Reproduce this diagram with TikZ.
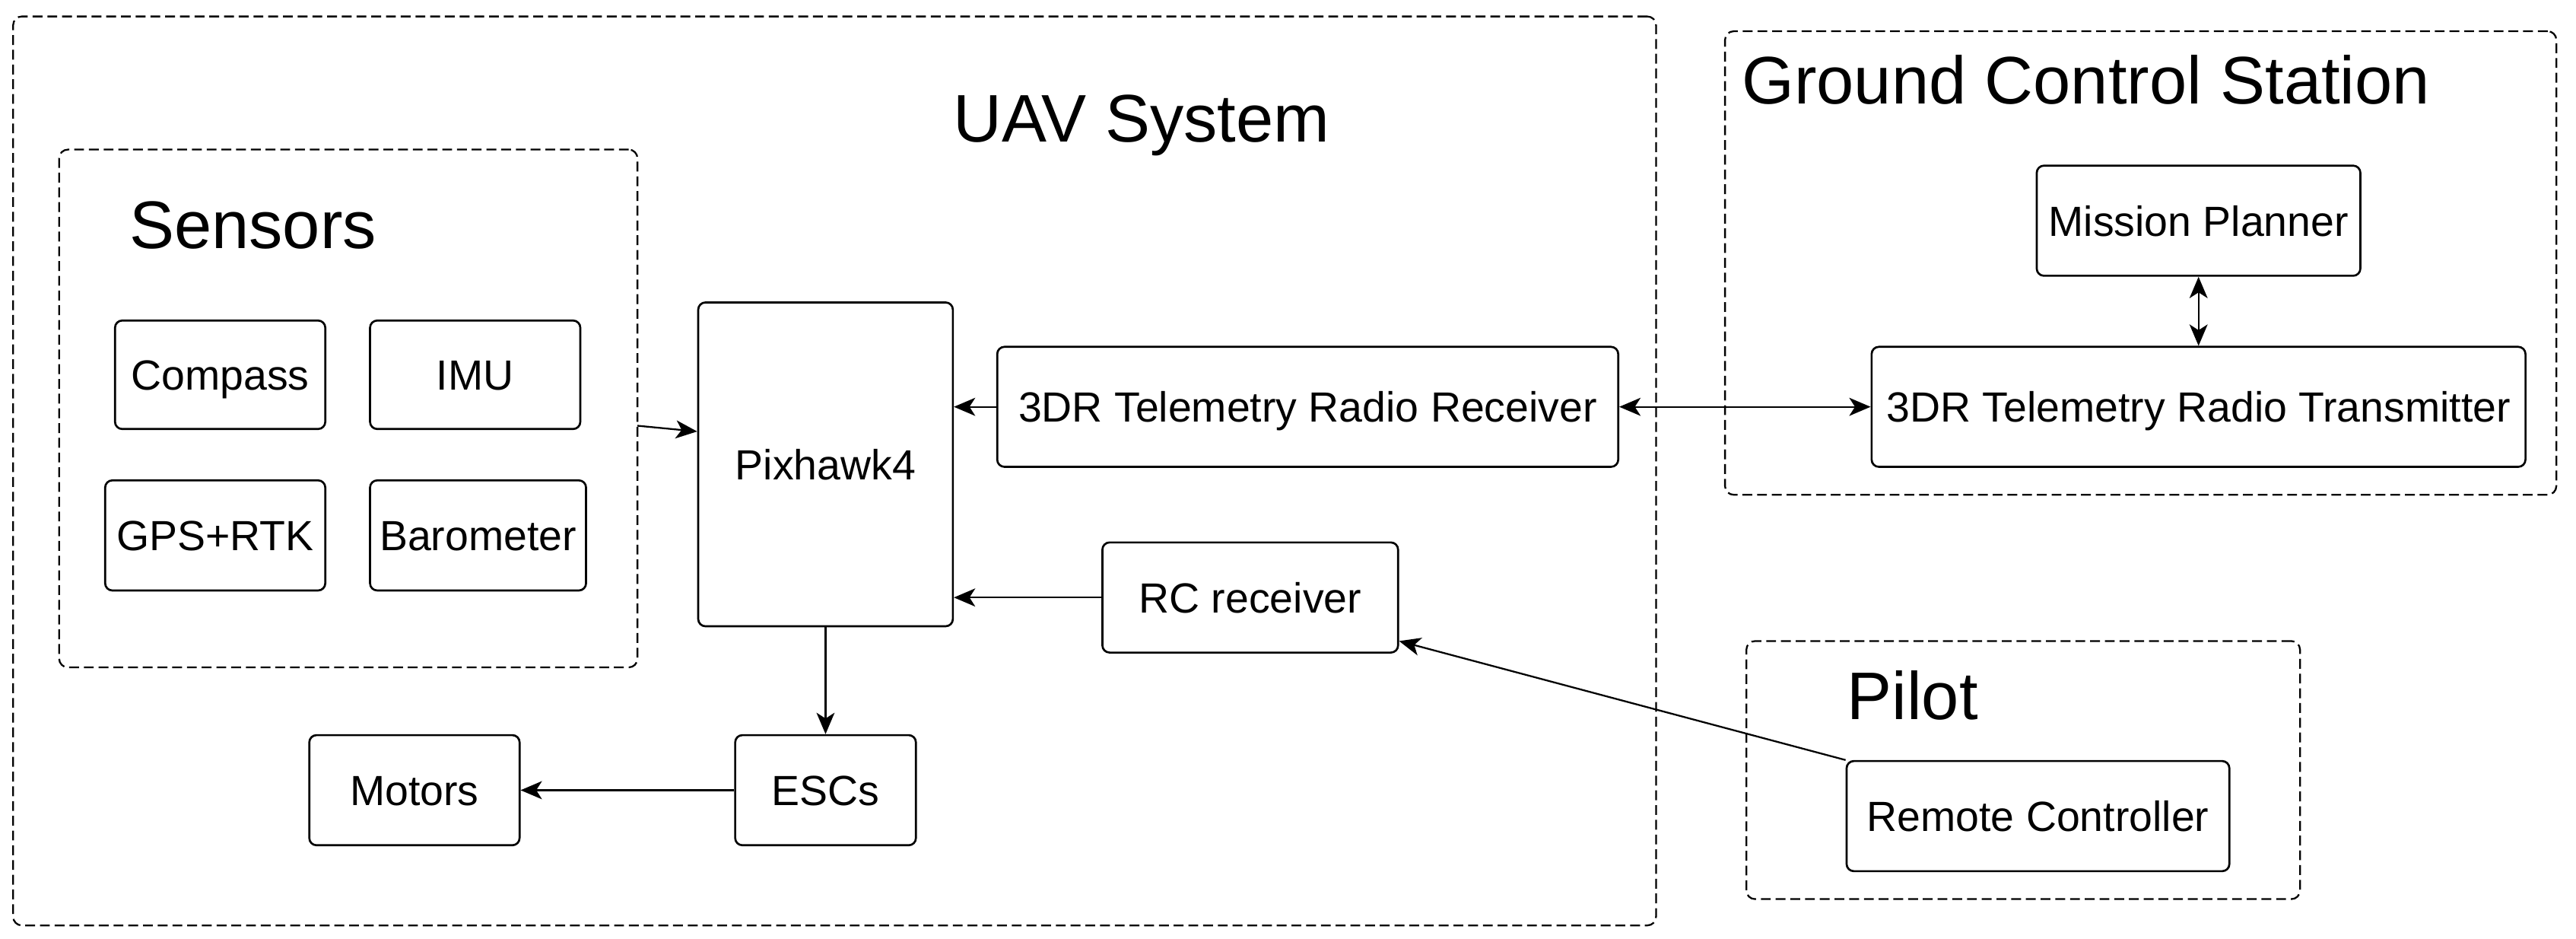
\documentclass[tikz,border=0pt]{standalone}
\usepackage{fontspec}
\setmainfont{Liberation Sans}
\usepackage{tikz}
\usetikzlibrary{arrows.meta,positioning,calc}
\definecolor{uavline}{HTML}{000000}
\tikzset{
  unit/.style={rounded corners=2.5pt, draw=uavline, line width=0.7pt, fill=white, align=center, minimum height=1.34cm, text height=0.37cm, text depth=0cm, font=\fontsize{14.6}{17}\selectfont},
  group/.style={rounded corners=3pt, draw=uavline, line width=0.6pt, dash pattern=on 3.4pt off 1.7pt, inner sep=0pt, outer sep=0pt},
  title/.style={anchor=base west, inner sep=0pt, font=\fontsize{23.3}{27}\selectfont},
  arrow/.style={-{Stealth[length=0.26cm, width=0.22cm, inset=0.07cm]}, line width=0.6pt, draw=uavline},
  biarrow/.style={{Stealth[length=0.26cm, width=0.22cm, inset=0.07cm]}-{Stealth[length=0.26cm, width=0.22cm, inset=0.07cm]}, line width=0.6pt, draw=uavline}
}

\begin{document}
\begin{tikzpicture}[node distance=0.6cm and 0.52cm]
  \useasboundingbox (0,0) rectangle (31.36,-11.42);

  % groups
  \node[group, minimum width=20cm, minimum height=11.06cm] (uav) at (10.16,-5.73) {};
  \node[group, minimum width=7.04cm, minimum height=6.3cm] (sensors) at (4.24,-4.97) {};
  \node[group, minimum width=10.12cm, minimum height=5.64cm] (gcs) at (26.06,-3.2) {};
  \node[group, minimum width=6.74cm, minimum height=3.14cm] (pilot) at (24.63,-9.37) {};

  \node[title] (uavtitle) at (11.6,-1.73) {UAV System};
  \node[title] (sensorstitle) at (1.57,-3.02) {Sensors};
  \node[title] (gcstitle) at (21.2,-1.26) {Ground Control Station};
  \node[title] (pilottitle) at (22.48,-8.75) {Pilot};

  % sensors
  \node[unit, minimum width=2.56cm, minimum height=1.32cm] (compass) at (2.68,-4.56) {Compass};
  \node[unit, minimum width=2.56cm, minimum height=1.32cm, right=of compass] (imu) {IMU};
  \node[unit, minimum width=2.68cm, below=of compass.south east, anchor=north east] (gps) {GPS+RTK};
  \node[unit, minimum width=2.58cm, below=of imu.south west, anchor=north west] (baro) {Barometer};

  % vehicle
  \node[unit, minimum width=3.1cm, minimum height=3.94cm] (pixhawk) at (10.05,-5.65) {Pixhawk4};
  \node[unit, minimum width=2.2cm, below=1.3cm of pixhawk] (escs) {ESCs};
  \node[unit, minimum width=2.56cm, left=2.6cm of escs] (motors) {Motors};
  \node[unit, minimum width=7.56cm, minimum height=1.46cm] (receiver) at (15.92,-4.95) {3DR Telemetry Radio Receiver};
  \node[unit, minimum width=3.6cm] (rcrx) at (15.22,-7.27) {RC receiver};

  % ground side
  \node[unit, minimum width=7.96cm, minimum height=1.46cm, right=3.06cm of receiver] (transmitter) {3DR Telemetry Radio Transmitter};
  \node[unit, minimum width=3.94cm, above=0.84cm of transmitter] (mission) {Mission Planner};
  \node[unit, minimum width=4.66cm] (remote) at (24.81,-9.93) {Remote Controller};

  \draw[arrow] ([yshift=-0.21cm]sensors.east) -- ([yshift=0.4cm]pixhawk.west);
  \draw[arrow] (receiver.west) -- (receiver.west -| pixhawk.east);
  \draw[biarrow] (receiver) -- (transmitter);
  \draw[biarrow] (mission) -- (transmitter);
  \draw[arrow] (rcrx.west) -- (rcrx.west -| pixhawk.east);
  \draw[arrow] (remote.north west) -- ([yshift=-0.53cm]rcrx.east);
  \draw[arrow] (pixhawk) -- (escs);
  \draw[arrow] (escs) -- (motors);
\end{tikzpicture}
\end{document}
